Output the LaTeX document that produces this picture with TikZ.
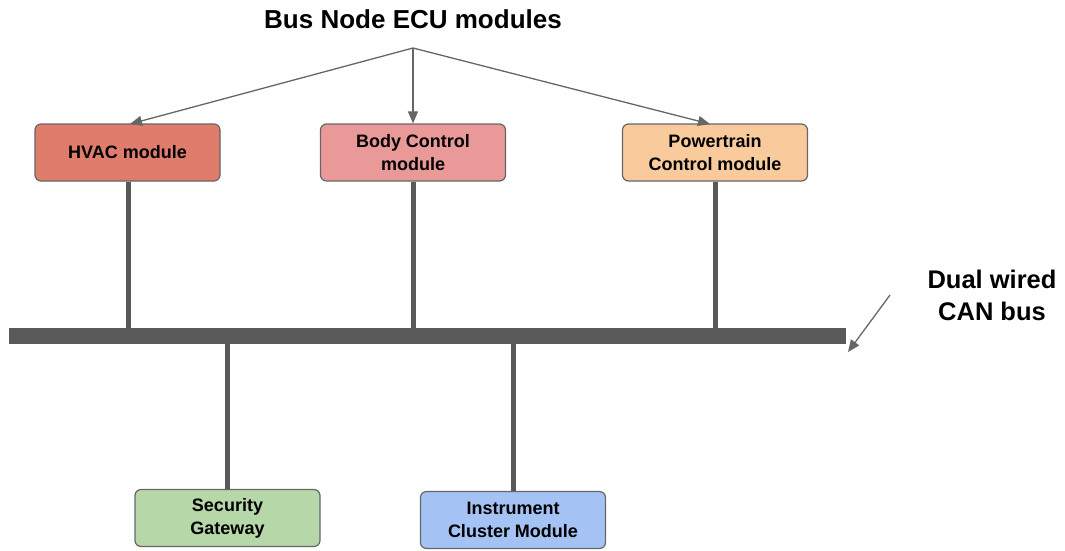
\documentclass[tikz,border=0pt]{standalone}
\usepackage{fontspec}
\setmainfont{Liberation Sans}
\usetikzlibrary{arrows.meta}
\definecolor{hvac}{HTML}{E07C6B}
\definecolor{body}{HTML}{EA9999}
\definecolor{power}{HTML}{F9CB9C}
\definecolor{secur}{HTML}{B6D7A8}
\definecolor{instr}{HTML}{A4C2F4}
\definecolor{edge}{HTML}{666666}
\definecolor{busgray}{HTML}{595959}
\begin{document}
\begin{tikzpicture}[x=1pt,y=-1pt,
  ecu/.style={draw=edge, line width=1.2pt, rounded corners=6pt, minimum width=185pt,
    minimum height=57pt, align=center, inner sep=0pt,
    font=\fontsize{18}{23}\selectfont\bfseries},
  stub/.style={draw=busgray, line width=5pt},
  pointer/.style={draw=edge, line width=1.3pt, -{Triangle[length=12pt,width=10pt]}},
  heading/.style={font=\fontsize{26}{32}\selectfont\bfseries, align=center}]
\useasboundingbox (0,0) rectangle (1065,550);

% title and its fan of arrows
\node[heading] (title) at (413,19) {Bus Node ECU modules};
\coordinate (fan) at (413,48);

% upper modules
\node[ecu, fill=hvac]  (hvac)  at (127.5,152.5) {HVAC module};
\node[ecu, fill=body]  (bcm)   at (413,152.5)   {Body Control\\module};
\node[ecu, fill=power] (pcm)   at (715,152.5)   {Powertrain\\Control module};

% lower modules
\node[ecu, fill=secur] (sgw)   at (227.5,518)   {Security\\Gateway};
\node[ecu, fill=instr] (icm)   at (513,520)     {Instrument\\Cluster Module};

% the bus bar
\node[fill=busgray, minimum width=837pt, minimum height=16pt, inner sep=0pt]
  (bus) at (427.5,336) {};

% bus label and pointer
\node[font=\fontsize{25.5}{32}\selectfont\bfseries, align=center] (buslabel) at (992,295) {Dual wired\\CAN bus};
\coordinate (ptrA) at (890,295);
\coordinate (ptrB) at (848,352);

% stubs from modules to the bus
\draw[stub] (hvac.south -| 128,0) -- (bus.north -| 128,0);
\draw[stub] (bcm.south) -- (bus.north -| bcm.south);
\draw[stub] (pcm.south) -- (bus.north -| pcm.south);
\draw[stub] (sgw.north) -- (bus.south -| sgw.north);
\draw[stub] (icm.north) -- (bus.south -| icm.north);

% arrows from the title
\draw[pointer] (fan) -- (130,124);
\draw[pointer] (fan) -- (bcm.north);
\draw[pointer] (fan) -- (710,124);
\draw[pointer] (ptrA) -- (ptrB);
\end{tikzpicture}
\end{document}
